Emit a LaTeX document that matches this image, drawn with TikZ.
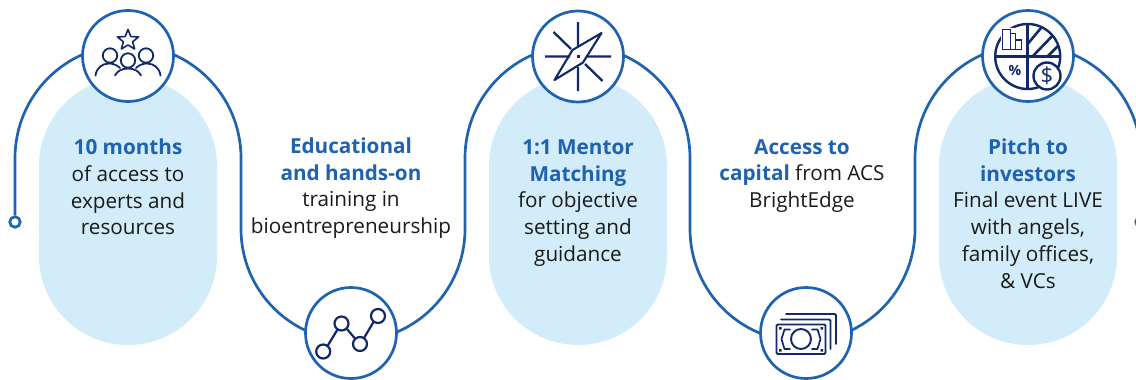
\documentclass[tikz,border=0pt]{standalone}
\usepackage{fontspec}
\setmainfont{Open Sans}
\definecolor{lineblue}{HTML}{1F62AF}
\definecolor{navy}{HTML}{11296B}
\definecolor{pale}{HTML}{D2ECF9}
\definecolor{ink}{HTML}{1A1A1A}
\newcommand{\hd}[1]{{\bfseries\color{lineblue}#1}}
\begin{document}
\begin{tikzpicture}[x=1pt,y=-1pt,
  pill/.style={fill=pale,draw=none},
  flow/.style={draw=lineblue,line width=2.7pt},
  ring/.style={circle,draw=lineblue,line width=2.7pt,fill=white,minimum size=91pt,inner sep=0pt},
  endring/.style={circle,draw=lineblue,line width=2.7pt,fill=white,minimum size=10.5pt,inner sep=0pt},
  label/.style={align=center,text=ink,font=\fontsize{20.7}{26.7}\selectfont,inner sep=0pt},
  icon/.style={draw=navy,line width=1.8pt,line cap=round,line join=round}]
\useasboundingbox (0,0) rectangle (1136,380);
\clip (0,0) rectangle (1136,380);
% pills
\fill[pill] (39,166) arc[start angle=180,end angle=0,x radius=89,y radius=-89] -- (217,256) arc[start angle=0,end angle=-180,x radius=89,y radius=-89] -- cycle;
\fill[pill] (489,166) arc[start angle=180,end angle=0,x radius=89,y radius=-89] -- (667,256) arc[start angle=0,end angle=-180,x radius=89,y radius=-89] -- cycle;
\fill[pill] (939,166) arc[start angle=180,end angle=0,x radius=89,y radius=-89] -- (1117,256) arc[start angle=0,end angle=-180,x radius=89,y radius=-89] -- cycle;
% connector anchors
\coordinate (a0) at (15,158);
\coordinate (a1) at (241,158);
\coordinate (b1) at (241,229);
\coordinate (a2) at (465,229);
\coordinate (b2) at (465,158);
\coordinate (a3) at (690,158);
\coordinate (b3) at (690,229);
\coordinate (a4) at (915,229);
\coordinate (b4) at (915,158);
\coordinate (a5) at (1141,158);
\node[endring] (startdot) at (15,222) {};
\node[endring] (enddot) at (1141,222) {};
% serpentine line
\draw[flow] (startdot) -- (a0)
  arc[start angle=180,end angle=0,x radius=113,y radius=-113] -- (b1)
  arc[start angle=180,end angle=360,x radius=112,y radius=-112] -- (b2)
  arc[start angle=180,end angle=0,x radius=112.5,y radius=-112.5] -- (b3)
  arc[start angle=180,end angle=360,x radius=112.5,y radius=-112.5] -- (b4)
  arc[start angle=180,end angle=0,x radius=113,y radius=-113] -- (enddot);
% rings
\node[ring] (r1) at (128,56) {};
\node[ring] (r2) at (351,333) {};
\node[ring] (r3) at (578,56.5) {};
\node[ring] (r4) at (806,333) {};
\node[ring] (r5) at (1028,56) {};
% icon 1: star and people
\draw[icon,line width=1.6pt] (128,29.5) -- (130.8,36.5) -- (138.5,37) -- (132.6,41.8) -- (134.6,49) -- (128,45) -- (121.4,49) -- (123.4,41.8) -- (117.5,37) -- (125.2,36.5) -- cycle;
\draw[icon] (110,55.5) circle[radius=7.2];
\draw[icon] (146,55.5) circle[radius=7.2];
\draw[icon] (128,60.5) circle[radius=7.2];
\draw[icon] (95.5,75.5) .. controls (96.5,68) and (102,63.5) .. (109,63.5) .. controls (113,63.5) and (117,65) .. (120,68);
\draw[icon] (160.5,75.5) .. controls (159.5,68) and (154,63.5) .. (147,63.5) .. controls (143,63.5) and (139,65) .. (136,68);
\draw[icon] (115,75.5) .. controls (117,71) and (122,68.5) .. (128,68.5) .. controls (134,68.5) and (139,71) .. (141,75.5);
% icon 2: network line
\draw[icon,line width=2.2pt] (323.2,351.5) circle[radius=7];
\draw[icon,line width=2.2pt] (341.5,323.5) circle[radius=7];
\draw[icon,line width=2.2pt] (360,344) circle[radius=7];
\draw[icon,line width=2.2pt] (378,316) circle[radius=7];
\draw[icon,line width=2.2pt] (327.5,346) -- (337.5,329.5) (346.5,328.5) -- (355,338.5) (364,338) -- (373.5,322);
% icon 3: compass
\draw[icon,line width=2.3pt,line cap=butt] (578,22) -- (578,46) (578,67) -- (578,91)
  (545,56.5) -- (570,56.5) (586,56.5) -- (611,56.5)
  (553.5,32) -- (571,49) (585,64) -- (602.5,81);
\draw[icon,line width=2.1pt] (601.5,33) -- (583,62.5) -- (554.5,80) -- (572.5,50) -- cycle;
\fill[navy] (577.2,55.2) rectangle (579.7,57.8);
% icon 4: banknotes
\draw[icon,line width=1.9pt,rounded corners=1.2pt] (776.5,324.5) rectangle (825.5,354);
\draw[icon,line width=1.9pt,rounded corners=1.2pt] (781,319.5) -- (830.5,319.5) -- (830.5,349);
\draw[icon,line width=1.9pt,rounded corners=1.2pt] (786,314) -- (836,314) -- (836,344);
\draw[icon,line width=1.9pt] (801,339) circle[radius=10];
\draw[icon,line width=1.7pt] (790,329.5) -- (784.5,329.5) -- (781.5,339) -- (784.5,349) -- (790,349);
\draw[icon,line width=1.7pt] (812,329.5) -- (817.5,329.5) -- (820.5,339) -- (817.5,349) -- (812,349);
\fill[navy] (779,327) rectangle (781.5,329.5) (820.5,327) rectangle (823,329.5) (779,349) rectangle (781.5,351.5) (820.5,349) rectangle (823,351.5);
% icon 5: pie chart
\begin{scope}
\clip (1027.7,56.5) circle[radius=32.5];
\clip (1028,24) rectangle (1061,56);
\draw[navy,line width=2.6pt] (1026,46) -- (1046,22) (1032,57) -- (1058,30) (1047,57) -- (1066,38);
\end{scope}
\draw[icon,line width=2.4pt] (1027.7,56.5) circle[radius=32.5];
\draw[navy,line width=2.6pt] (1027.7,24) -- (1027.7,89) (995,56.5) -- (1060.2,56.5);
\fill[white] (1001,28) rectangle (1024,51);
\draw[icon,line width=1.9pt,line cap=butt,line join=miter] (1002.5,49.5) -- (1002.5,29.5) -- (1010.5,29.5) -- (1010.5,49.5) (1002.5,49.5) -- (1021.5,49.5) -- (1021.5,40) -- (1015.5,40) -- (1015.5,49.5) (1010.5,33.5) -- (1015.5,33.5) -- (1015.5,40);
\draw[icon,line width=2.4pt,fill=white] (1047,76) circle[radius=13.5];
\node[inner sep=0pt,text=navy,font=\fontsize{22}{22}\selectfont] (dollar) at (1047,76) {\$};
\node[inner sep=0pt,text=navy,font=\bfseries\fontsize{14}{14}\selectfont] (pct) at (1015,70) {\%};
% texts
\node[label] (t1) at (128,187) {\hd{10 months}\\of access to\\experts and\\resources};
\node[label] (t2) at (351,188) {\hd{Educational}\\\hd{and hands-on}\\training in\\bioentrepreneurship};
\node[label] (t3) at (578,203) {\hd{1:1 Mentor}\\\hd{Matching}\\for objective\\setting and\\guidance};
\node[label] (t4) at (802,176) {\hd{Access to}\\\hd{capital} from ACS\\BrightEdge};
\node[label] (t5) at (1028,213.5) {\hd{Pitch to}\\\hd{investors}\\Final event LIVE\\with angels,\\family offices,\\\&\ VCs};
\end{tikzpicture}
\end{document}
